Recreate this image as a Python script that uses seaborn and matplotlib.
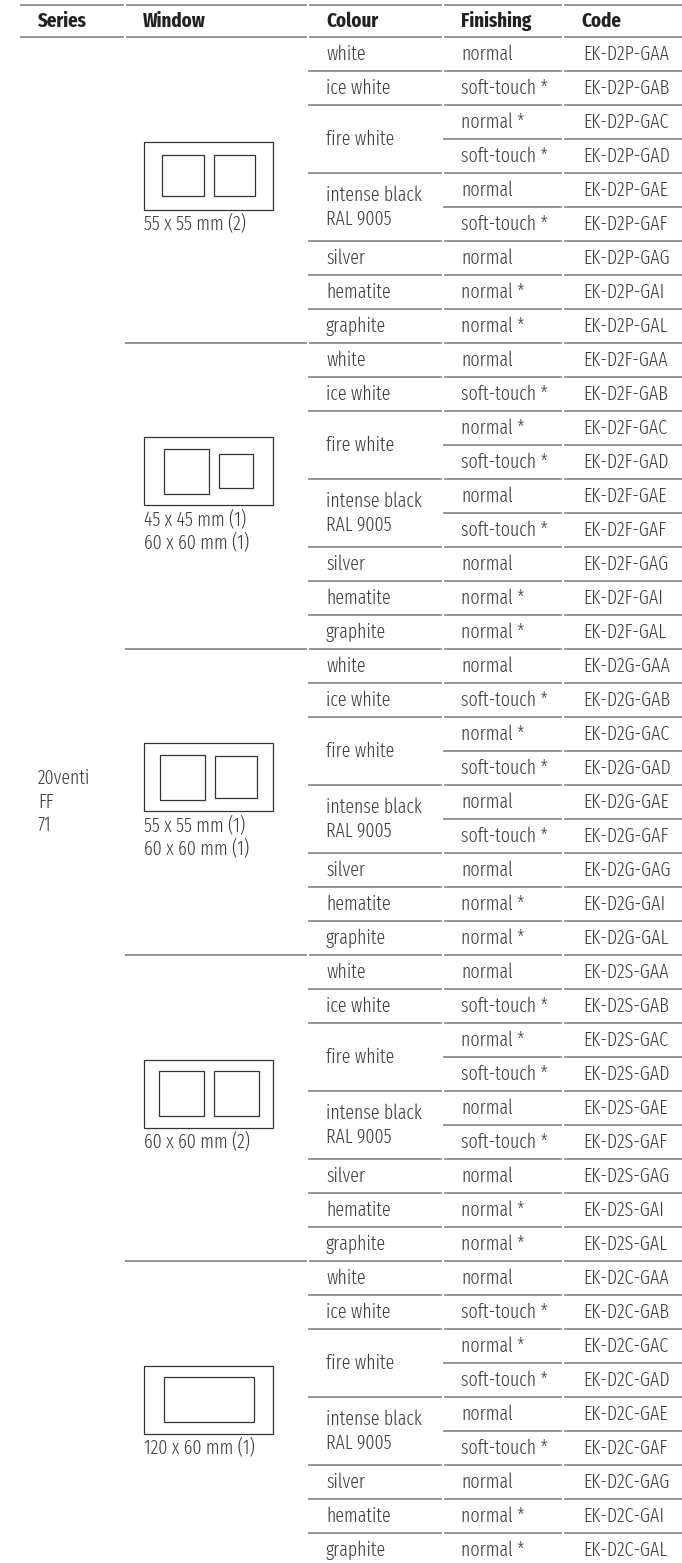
import numpy as np
import matplotlib
matplotlib.use("Agg")
import matplotlib.pyplot as plt
import seaborn as sns
from matplotlib.patches import Rectangle
from matplotlib import font_manager

# table content
series = ["20venti", "FF", "71"]
windows = ["55 x 55 mm (2)", "45 x 45 mm (1)\n60 x 60 mm (1)", "55 x 55 mm (1)\n60 x 60 mm (1)",
           "60 x 60 mm (2)", "120 x 60 mm (1)"]
# window openings in mm (width, height), left to right
openings = [[(55, 55), (55, 55)], [(60, 60), (45, 45)], [(60, 60), (55, 55)],
            [(60, 60), (60, 60)], [(120, 60)]]
prefixes = ["D2P", "D2F", "D2G", "D2S", "D2C"]
colours = ["white", "ice white", "fire white", "intense black\nRAL 9005", "silver", "hematite", "graphite"]
colour_rows = [1, 1, 2, 2, 1, 1, 1]
finishing = ["normal", "soft-touch *", "normal *", "soft-touch *", "normal", "soft-touch *",
             "normal", "normal *", "normal *"]
suffixes = ["GAA", "GAB", "GAC", "GAD", "GAE", "GAF", "GAG", "GAI", "GAL"]
headers = ["Series", "Window", "Colour", "Finishing", "Code"]

sns.set_theme(style="white")
names = {f.name for f in font_manager.fontManager.ttflist}
narrow = "DejaVu Sans"
stretch = "condensed"
for cand in ["Fira Sans Extra Condensed", "Fira Sans Condensed", "Barlow Condensed",
             "Asap Condensed", "Liberation Sans Narrow"]:
    if cand in names:
        narrow, stretch = cand, "normal"
        break
plt.rcParams["font.family"] = [narrow, "DejaVu Sans"]

W, H = 682, 1563
fig = plt.figure(figsize=(W / 100, H / 100), dpi=100)
ax = fig.add_axes([0, 0, 1, 1])
ax.set_xlim(0, W)
ax.set_ylim(H, 0)
ax.axis("off")

body = dict(family=[narrow, "DejaVu Sans"], weight=300, stretch=stretch)
head = dict(family=[narrow, "DejaVu Sans"], weight="bold", stretch=stretch)

# fit font sizes to the reference widths of a code and a header
renderer = fig.canvas.get_renderer()
def width_at(s, size, props):
    t = ax.text(0, 0, s, fontsize=size, **props)
    w = t.get_window_extent(renderer).width
    t.remove()
    return w
fs = float(np.clip(10 * 86 / width_at("EK-D2P-GAA", 10, body), 9, 16))
hfs = float(np.clip(10 * 71 / width_at("Finishing", 10, head), 9, 16))

col_x = [20, 125, 308, 443, 563]   # cell left edges
pad = 18
row_h = 34
top = 37
n_rows = len(finishing)
block_h = n_rows * row_h
txt = "#3c3c3c"
line_c = "#8c8c8c"


def hline(y, c0, c1=5, lw=1.3):
    # one separator, broken slightly at each column edge
    for c in range(c0, c1):
        x0 = col_x[c] + (0 if c == c0 else 1)
        x1 = (col_x[c + 1] - 1) if c + 1 < len(col_x) else W
        ax.plot([x0, x1], [y, y], color=line_c, lw=lw, solid_capstyle="butt")


# header
hline(4.5, 0)
hline(top, 0)
for i, h in enumerate(headers):
    ax.text(col_x[i] + pad, 21, h, fontsize=hfs, color="#222222", va="center", ha="left", **head)

# series cell spanning all blocks
y_mid_all = top + len(windows) * block_h / 2
ax.text(col_x[0] + pad, y_mid_all, "\n".join(series), fontsize=fs, color=txt,
        va="center", ha="left", linespacing=1.25, **body)

scale = 0.75  # px per mm for the window sketch
box_w, box_h = 129, 68
for b, (win, ops, pre) in enumerate(zip(windows, openings, prefixes)):
    y0 = top + b * block_h
    if b > 0:
        hline(y0, 1)
    mid = y0 + block_h / 2
    n_lab = win.count("\n") + 1
    group_h = box_h + 8 + 21 * n_lab
    by = mid - group_h / 2
    bx = col_x[1] + 19
    ax.add_patch(Rectangle((bx, by), box_w, box_h, fill=False, ec="#333333", lw=0.9))
    ws = [w * scale for w, h in ops]
    gap = 10
    x = bx + box_w / 2 - (sum(ws) + gap * (len(ws) - 1)) / 2
    for (w, h) in ops:
        ww, hh = w * scale, h * scale
        ax.add_patch(Rectangle((x, by + box_h / 2 - hh / 2), ww, hh, fill=False,
                               ec="#333333", lw=0.9))
        x += ww + gap
    ax.text(bx, by + box_h + 5, win, fontsize=fs, color=txt, va="top", ha="left",
            linespacing=1.2, **body)

    # colour cells
    r = 0
    for ci, (cname, span) in enumerate(zip(colours, colour_rows)):
        ry = y0 + r * row_h
        if ci > 0:
            hline(ry, 2)
        ax.text(col_x[2] + pad, ry + span * row_h / 2, cname, fontsize=fs, color=txt,
                va="center", ha="left", linespacing=1.2, **body)
        for k in range(1, span):
            hline(ry + k * row_h, 3)
        r += span

    # finishing and code cells
    for k, (fin, suf) in enumerate(zip(finishing, suffixes)):
        cy = y0 + k * row_h + row_h / 2
        ax.text(col_x[3] + pad, cy, fin, fontsize=fs, color=txt, va="center", ha="left", **body)
        ax.text(col_x[4] + pad + 2, cy, f"EK-{pre}-{suf}", fontsize=fs, color=txt,
                va="center", ha="left", **body)

fig.savefig("out.png", dpi=100)
